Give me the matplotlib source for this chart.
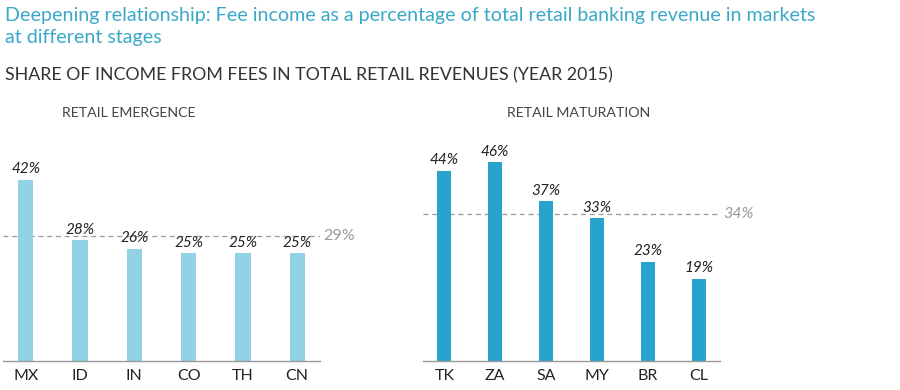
import matplotlib.pyplot as plt

plt.rcParams['font.family'] = ['Lato', 'DejaVu Sans']

left_cats = ["MX", "ID", "IN", "CO", "TH", "CN"]
left_vals = [42, 28, 26, 25, 25, 25]
left_avg = 29
right_cats = ["TK", "ZA", "SA", "MY", "BR", "CL"]
right_vals = [44, 46, 37, 33, 23, 19]
right_avg = 34

W, H = 900, 390
fig = plt.figure(figsize=(9, 3.9), dpi=100)

def fx(px):
    return px / W

def fy(py):
    return 1 - py / H

base = 361
scale = 4.32
ymax = 48
top = base - ymax * scale

def panel(x0, x1, cats, vals, avg, color, title, tx, avg_italic):
    ax = fig.add_axes([fx(x0), fy(base), fx(x1 - x0), (base - top) / H])
    n = len(cats)
    xs = list(range(n))
    ax.bar(xs, vals, width=0.28, color=color, zorder=2)
    ax.set_xlim(-0.42, n - 1 + 0.42)
    ax.set_ylim(0, ymax)
    for s in ["top", "right", "left"]:
        ax.spines[s].set_visible(False)
    ax.spines["bottom"].set_color("#999999")
    ax.spines["bottom"].set_linewidth(1.0)
    ax.set_yticks([])
    ax.set_xticks(xs)
    ax.set_xticklabels(cats, fontsize=11.5, color="#222222")
    ax.tick_params(axis="x", length=0, pad=6)
    for x, v in zip(xs, vals):
        ax.text(x, v + 0.8, f"{v}%", ha="center", va="bottom", fontsize=11,
                style="italic", color="#222222")
    ax.axhline(avg, color="#999999", linestyle=(0, (4, 3)), linewidth=0.9, zorder=1)
    ax.text(1.01, avg, f"{avg}%", transform=ax.get_yaxis_transform(), ha="left",
            va="center", fontsize=11.5, color="#999999",
            style="italic" if avg_italic else "normal")
    fig.text(fx(tx), fy(113), title, fontsize=10.2, color="#444444", va="center", ha="left")
    return ax

panel(3, 320, left_cats, left_vals, left_avg, "#92D1E6", "RETAIL EMERGENCE", 62, False)
panel(423, 720, right_cats, right_vals, right_avg, "#27A3CD", "RETAIL MATURATION", 507, True)

fig.text(fx(5), fy(15), "Deepening relationship: Fee income as a percentage of total retail banking revenue in markets",
         fontsize=14.1, color="#3AA8C8", va="center", ha="left")
fig.text(fx(5), fy(37), "at different stages", fontsize=14.1, color="#3AA8C8", va="center", ha="left")
fig.text(fx(5), fy(75), "SHARE OF INCOME FROM FEES IN TOTAL RETAIL REVENUES (YEAR 2015)",
         fontsize=12.8, color="#333333", va="center", ha="left")

fig.savefig("out.png", dpi=100, facecolor="white")
